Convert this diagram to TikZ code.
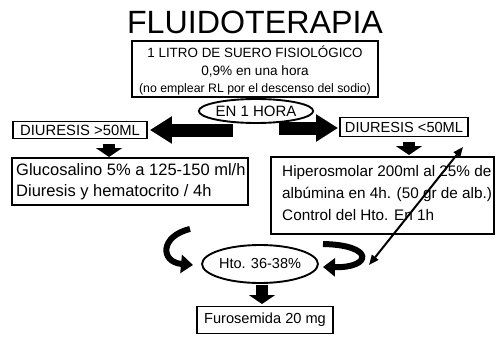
\documentclass[tikz,border=0pt]{standalone}
\usepackage{fontspec}
\setmainfont{Liberation Sans}
\usetikzlibrary{arrows.meta,shapes.geometric,calc}
\begin{document}
\begin{tikzpicture}[x=1pt,y=-1pt,
  box/.style={draw, line width=1.4pt, inner sep=0pt},
  thickbox/.style={draw, line width=1.9pt, inner sep=0pt},
  oval/.style={ellipse, draw, line width=1.9pt, inner sep=0pt},
  txt/.style={inner sep=0pt, anchor=base},
  ltxt/.style={inner sep=0pt, anchor=base west},
  blockarrow/.style={line width=13pt, -{Triangle[length=22pt,width=26pt]}},
  smallarrow/.style={line width=12pt, -{Triangle[length=9pt,width=26pt]}},
  curvearrow/.style={line width=6pt, -{Triangle[length=12pt,width=18pt]}},
  linkarrow/.style={line width=2pt, {Triangle[length=10pt,width=8pt]}-{Triangle[length=10pt,width=8pt]}}]
\useasboundingbox (0,0) rectangle (497,340);

\node[txt, font=\fontsize{32.2}{36}\selectfont] (title) at (255,33) {FLUIDOTERAPIA};

\node[box, minimum width=246pt, minimum height=56pt] (top) at (255,69) {};
\node[txt, font=\fontsize{13.4}{16}\selectfont] (l1) at (255,57) {1 LITRO DE SUERO FISIOLÓGICO};
\node[txt, font=\fontsize{13.6}{16}\selectfont] (l2) at (255,75) {0,9\% en una hora};
\node[txt, font=\fontsize{12.3}{15}\selectfont] (l3) at (255,92) {(no emplear RL por el descenso del sodio)};

\node[oval, minimum width=109pt, minimum height=24pt, font=\fontsize{15}{16}\selectfont] (en) at (256,111) {EN 1 HORA};

\node[thickbox, minimum width=134pt, minimum height=17pt, font=\fontsize{14.8}{16}\selectfont] (d1) at (80,130) {DIURESIS >50ML};
\node[thickbox, minimum width=128pt, minimum height=19pt, font=\fontsize{14.6}{16}\selectfont] (d2) at (404,127) {DIURESIS <50ML};

\coordinate (la) at (233,130);
\coordinate (ra) at (279,128);
\draw[blockarrow, shorten >=2pt] (la) -- (d1.east);
\draw[blockarrow, shorten >=1pt] (ra) -- (d2.west |- ra);

\node[box, minimum width=236pt, minimum height=47pt] (g) at (130,181.5) {};
\node[ltxt, font=\fontsize{16.5}{18}\selectfont] (g1) at (16,175) {Glucosalino 5\% a 125-150 ml/h};
\node[ltxt, font=\fontsize{16.5}{18}\selectfont] (g2) at (16,196.5) {Diuresis y hematocrito / 4h};

\node[box, minimum width=223pt, minimum height=77pt] (h) at (382.5,195.5) {};
\node[ltxt, font=\fontsize{15.3}{18}\selectfont] (h1) at (282,176.5) {Hiperosmolar 200ml al 25\% de};
\node[ltxt, font=\fontsize{15.3}{18}\selectfont] (h2) at (282,198.5) {albúmina en 4h. (50 gr de alb.)};
\node[ltxt, font=\fontsize{15.3}{18}\selectfont] (h3) at (282,220.5) {Control del Hto. En 1h};

\coordinate (s1a) at (109,144); \coordinate (s1b) at (109,157);
\draw[smallarrow] (s1a) -- (s1b);
\coordinate (s2a) at (409,142); \coordinate (s2b) at (409,155);
\draw[smallarrow] (s2a) -- (s2b);

\node[oval, minimum width=114pt, minimum height=38pt, font=\fontsize{14.5}{16}\selectfont] (hto) at (260,264) {Hto. 36-38\%};

\coordinate (s3a) at (262,285); \coordinate (s3b) at (262,304);
\draw[smallarrow] (s3a) -- (s3b);

\node[box, minimum width=136pt, minimum height=27pt, font=\fontsize{14.6}{16}\selectfont] (f) at (265,320) {Furosemida 20 mg};

\coordinate (c1a) at (190,229); \coordinate (c1b) at (193,265);
\draw[curvearrow] (c1a) .. controls (160,236) and (160,262) .. (c1b);
\coordinate (c2a) at (323,244); \coordinate (c2b) at (323,267);
\draw[curvearrow] (c2a) .. controls (375,245) and (372,268) .. (c2b);

\coordinate (ka) at (369,265); \coordinate (kb) at (463,147);
\draw[linkarrow] (ka) -- (kb);
\end{tikzpicture}
\end{document}
